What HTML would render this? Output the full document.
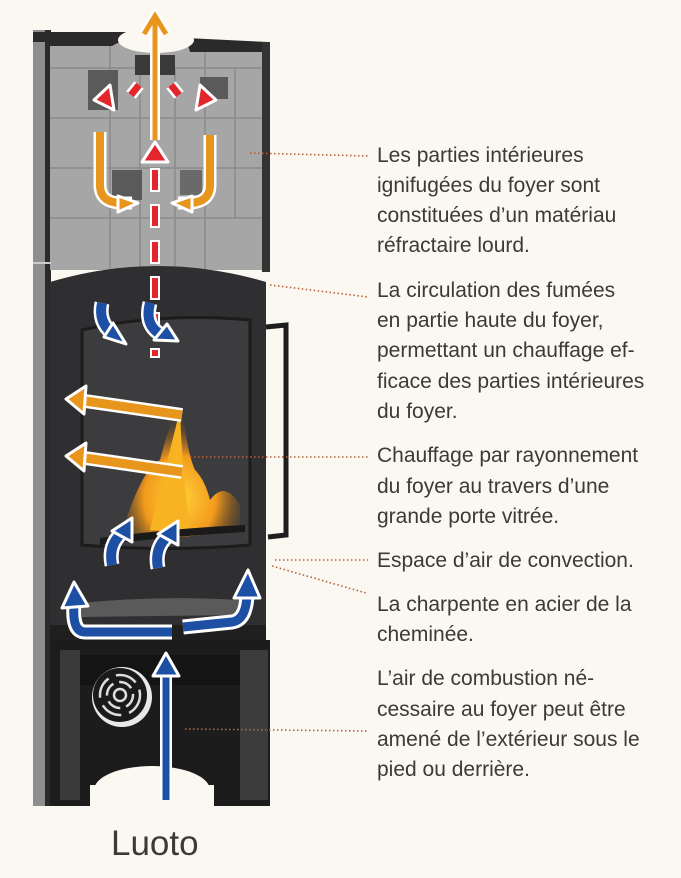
<!DOCTYPE html>
<html><head><meta charset="utf-8"><style>
html,body{margin:0;padding:0;background:#fbf7f1;}
#w{position:relative;width:681px;height:878px;overflow:hidden;background:#fbf7f1;font-family:"Liberation Sans",sans-serif;color:#3d3a36;}
.t{position:absolute;left:377px;font-size:21px;line-height:24px;white-space:nowrap;}
</style></head><body><div id="w">
<svg width="681" height="878" style="position:absolute;left:0;top:0">
<defs>
<radialGradient id="fl" cx="0.5" cy="0.7" r="0.6"><stop offset="0" stop-color="#ffd23a"/><stop offset="0.5" stop-color="#f39a1c"/><stop offset="1" stop-color="#5a3a1a" stop-opacity="0"/></radialGradient>
</defs>
<rect x="33" y="30" width="18" height="780" fill="#8e8e8e"/>
<rect x="45" y="30" width="6" height="780" fill="#2a2a2a"/>
<rect x="50" y="42" width="214" height="228" fill="#a6a6a6"/>
<g stroke="#8a8a8a" stroke-width="1.5">
<line x1="50" y1="68" x2="264" y2="68"/><line x1="50" y1="118" x2="264" y2="118"/><line x1="50" y1="168" x2="264" y2="168"/><line x1="50" y1="218" x2="264" y2="218"/>
<line x1="110" y1="42" x2="110" y2="270"/><line x1="140" y1="68" x2="140" y2="270"/><line x1="175" y1="68" x2="175" y2="270"/><line x1="205" y1="42" x2="205" y2="270"/><line x1="235" y1="68" x2="235" y2="218"/>
</g>
<rect x="88" y="70" width="30" height="40" fill="#5a5a5a"/><rect x="200" y="77" width="28" height="22" fill="#5a5a5a"/>
<rect x="112" y="170" width="30" height="30" fill="#5a5a5a"/><rect x="180" y="170" width="22" height="25" fill="#6a6a6a"/>
<rect x="135" y="55" width="40" height="20" fill="#3a3a3a"/>
<path d="M33 32 L128 32 L128 40 Q118 42 112 46 L50 46 L50 42 L33 42Z" fill="#2a2a2a"/>
<path d="M186 38 L268 42 L268 52 L190 52Z" fill="#2a2a2a"/>
<ellipse cx="156" cy="40" rx="38" ry="13" fill="#fbf7f1"/>
<rect x="262" y="42" width="8" height="230" fill="#333"/>
<path d="M50 282 Q157 250 266 282 L266 640 L50 640Z" fill="#2f2f31"/>
<rect x="33" y="262" width="18" height="2" fill="#ccc"/>
<path d="M82 330 Q160 312 250 320 L250 545 Q165 552 82 545Z" fill="#3c3c3e" stroke="#1c1c1c" stroke-width="3"/>
<path d="M120 540 Q140 470 160 460 Q170 420 182 400 Q186 450 195 470 Q205 480 210 500 Q225 480 240 505 L240 530 Q170 540 120 540Z" fill="url(#fl)"/>
<path d="M150 530 Q165 470 180 410 Q182 470 190 530Z" fill="#f7b322"/>
<path d="M100 538 Q175 528 245 525 L245 532 Q175 536 100 545Z" fill="#1a1a1a"/>
<path d="M266 327 L286 325 L286 535 L268 537" fill="none" stroke="#1e1e1e" stroke-width="5"/>
<path d="M82 603 Q160 595 240 600 L240 615 L82 617Z" fill="#5a5a5a"/>
<rect x="50" y="625" width="216" height="18" fill="#1f1f1f"/>
<rect x="50" y="640" width="220" height="170" fill="#1c1c1c"/>
<rect x="60" y="650" width="20" height="150" fill="#3a3a3a"/>
<rect x="240" y="650" width="28" height="150" fill="#3c3c3c"/>
<rect x="80" y="655" width="160" height="30" fill="#141414"/>
<circle cx="122" cy="697" r="30" fill="#e8e8e8"/><circle cx="120" cy="695" r="27" fill="#1a1a1a"/>
<g fill="none" stroke="#ddd" stroke-width="2.5"><circle cx="120" cy="695" r="20" stroke-dasharray="22 8"/><circle cx="120" cy="695" r="13" stroke-dasharray="14 6"/><circle cx="120" cy="695" r="6"/></g>
<ellipse cx="152" cy="790" rx="58" ry="24" fill="#fbf7f1"/>
<rect x="33" y="806" width="240" height="12" fill="#fbf7f1"/>
<rect x="90" y="785" width="124" height="30" fill="#fbf7f1"/>

<g stroke-linecap="butt" stroke-linejoin="miter" fill="none">
<g><path d="M155 140 L155 20 M144 34 L155 16 L166 34" stroke="#fff" stroke-width="10"/><path d="M155 140 L155 20 M144 34 L155 16 L166 34" stroke="#e8951c" stroke-width="5"/></g>
<path d="M100 132 L100 185 Q100 203 122 203 L132 203" stroke="#fff" stroke-width="13"/>
<path d="M100 132 L100 185 Q100 203 122 203 L132 203" stroke="#e8951c" stroke-width="8"/>
<path d="M210 135 L210 185 Q210 203 188 203 L178 203" stroke="#fff" stroke-width="13"/>
<path d="M210 135 L210 185 Q210 203 188 203 L178 203" stroke="#e8951c" stroke-width="8"/>
<path d="M182 415 L78 400" stroke="#fff" stroke-width="14"/><path d="M182 415 L78 400" stroke="#e8951c" stroke-width="9"/>
<path d="M182 472 L78 457" stroke="#fff" stroke-width="14"/><path d="M182 472 L78 457" stroke="#e8951c" stroke-width="9"/>
<path d="M155 168 L155 358" stroke="#fff" stroke-width="10" stroke-dasharray="24 12"/>
<path d="M155 170 L155 356" stroke="#e3262b" stroke-width="6" stroke-dasharray="20 16"/>
<path d="M139 85 L131 95" stroke="#fff" stroke-width="12"/><path d="M139 85 L131 95" stroke="#e3262b" stroke-width="7"/>
<path d="M171 85 L179 95" stroke="#fff" stroke-width="12"/><path d="M171 85 L179 95" stroke="#e3262b" stroke-width="7"/>
<path d="M172 632 L85 632 Q72 632 74 605" stroke="#fff" stroke-width="15"/><path d="M172 632 L85 632 Q72 632 74 605" stroke="#1d4fa5" stroke-width="9"/>
<path d="M183 627 L232 622 Q246 620 247 595" stroke="#fff" stroke-width="15"/><path d="M183 627 L232 622 Q246 620 247 595" stroke="#1d4fa5" stroke-width="9"/>
<path d="M166 800 L166 672" stroke="#fff" stroke-width="12"/><path d="M166 800 L166 672" stroke="#1d4fa5" stroke-width="7"/>
<path d="M112 565 Q108 545 122 533" stroke="#fff" stroke-width="15"/><path d="M112 565 Q108 545 122 533" stroke="#1d4fa5" stroke-width="10"/>
<path d="M158 568 Q154 548 168 536" stroke="#fff" stroke-width="15"/><path d="M158 568 Q154 548 168 536" stroke="#1d4fa5" stroke-width="10"/>
<path d="M102 303 Q98 322 112 333" stroke="#fff" stroke-width="15"/><path d="M102 303 Q98 322 112 333" stroke="#1d4fa5" stroke-width="10"/>
<path d="M150 303 Q144 326 162 335" stroke="#fff" stroke-width="15"/><path d="M150 303 Q144 326 162 335" stroke="#1d4fa5" stroke-width="10"/>
</g>
<g stroke="#fff" stroke-width="3" stroke-linejoin="round">
<polygon points="118,196 138,203 118,212" fill="#e8951c"/>
<polygon points="192,196 172,203 192,212" fill="#e8951c"/>
<polygon points="86,386 66,399 84,414" fill="#e8951c"/>
<polygon points="86,443 66,456 84,471" fill="#e8951c"/>
<polygon points="142,162 155,142 168,162" fill="#e3262b"/>
<polygon points="110,85 94,100 114,110" fill="#e3262b"/>
<polygon points="200,85 216,100 196,110" fill="#e3262b"/>
<polygon points="62,608 74,582 88,606" fill="#1d4fa5"/>
<polygon points="234,598 248,570 260,598" fill="#1d4fa5"/>
<polygon points="153,676 166,653 179,676" fill="#1d4fa5"/>
<polygon points="112,531 132,518 132,542" fill="#1d4fa5"/>
<polygon points="158,534 178,521 178,545" fill="#1d4fa5"/>
<polygon points="104,337 126,344 113,323" fill="#1d4fa5"/>
<polygon points="154,340 178,341 167,324" fill="#1d4fa5"/>
</g>
<g stroke="#b5603a" stroke-width="1.6" stroke-dasharray="1.5 2.5" fill="none">
<line x1="250" y1="153" x2="368" y2="156"/>
<line x1="270" y1="285" x2="368" y2="297"/>
<line x1="190" y1="457" x2="368" y2="457"/>
<line x1="275" y1="560" x2="368" y2="560"/>
<line x1="272" y1="566" x2="366" y2="593"/>
<line x1="185" y1="729" x2="368" y2="731"/>
</g>
</svg>
<div class="t" style="top:144px">Les parties intérieures</div>
<div class="t" style="top:174px">ignifugées du foyer sont</div>
<div class="t" style="top:204px">constituées d’un matériau</div>
<div class="t" style="top:234px">réfractaire lourd.</div>
<div class="t" style="top:279px">La circulation des fumées</div>
<div class="t" style="top:309px">en partie haute du foyer,</div>
<div class="t" style="top:339px">permettant un chauffage ef-</div>
<div class="t" style="top:370px">ficace des parties intérieures</div>
<div class="t" style="top:400px">du foyer.</div>
<div class="t" style="top:444px">Chauffage par rayonnement</div>
<div class="t" style="top:475px">du foyer au travers d’une</div>
<div class="t" style="top:505px">grande porte vitrée.</div>
<div class="t" style="top:549px">Espace d’air de convection.</div>
<div class="t" style="top:593px">La charpente en acier de la</div>
<div class="t" style="top:623px">cheminée.</div>
<div class="t" style="top:667px">L’air de combustion né-</div>
<div class="t" style="top:698px">cessaire au foyer peut être</div>
<div class="t" style="top:728px">amené de l’extérieur sous le</div>
<div class="t" style="top:758px">pied ou derrière.</div>
<div style="position:absolute;left:111px;top:824px;font-size:35px;line-height:40px;color:#3d3a36;">Luoto</div>
</div></body></html>
